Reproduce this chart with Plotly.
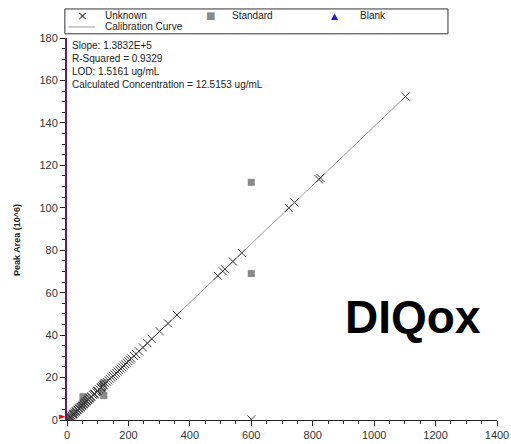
import plotly.graph_objects as go

# Calibration summary
slope = 1.3832e5          # peak area per ug/mL
r_squared = 0.9329
lod = 1.5161              # ug/mL
calc_conc = 12.5153       # ug/mL

# Unknown samples: concentration (ug/mL) and peak area (10^6)
unknown_conc = [2, 4, 6, 8, 10, 12, 15, 18, 20, 22, 25, 28, 30, 33, 35, 38, 40, 43, 45, 48,
                50, 53, 55, 58, 60, 63, 65, 68, 70, 73, 75, 78, 80, 85, 88, 90, 95, 98, 100,
                105, 110, 112, 115, 118, 120, 125, 130, 135, 140, 145, 150, 155, 160, 165,
                170, 175, 180, 185, 190, 195, 200, 205, 210, 218, 225, 234, 247, 262, 276,
                302, 329, 358, 491, 507, 514, 540, 569, 600, 722, 741, 820, 825, 1102]
unknown_area = [0.3, 0.6, 0.8, 1.1, 1.4, 1.7, 2.1, 2.5, 2.8, 3.0, 3.5, 3.9, 4.1, 4.6, 4.8, 5.3,
                5.5, 5.9, 6.2, 6.6, 6.9, 7.3, 7.6, 8.0, 8.3, 8.7, 9.0, 9.4, 9.7, 10.1, 10.4,
                10.8, 11.1, 11.8, 12.2, 12.4, 13.1, 13.6, 13.8, 14.5, 15.2, 15.5, 15.9, 16.3,
                16.6, 17.3, 18.0, 18.7, 19.4, 20.1, 20.7, 21.4, 22.1, 22.8, 23.5, 24.2, 24.9,
                25.6, 26.3, 27.0, 27.7, 28.4, 29.0, 30.2, 31.1, 32.4, 34.2, 36.2, 38.2, 41.8,
                45.5, 49.5, 67.9, 70.1, 71.1, 74.7, 78.7, 0.3, 99.9, 102.5, 113.4, 114.1, 152.4]

# Standards
standard_conc = [10, 25, 48, 52, 55, 115, 118, 120, 600, 600]
standard_area = [1.5, 3.4, 7.0, 11.0, 9.0, 13.0, 17.5, 11.5, 112.0, 69.0]

# Blank
blank_conc = [0]
blank_area = [0]

# Calibration curve end points (ug/mL)
curve_conc = [0, 1105]
curve_area = [slope * c / 1e6 for c in curve_conc]

# Axis ticks
x_ticks = [0, 200, 400, 600, 800, 1000, 1200, 1400]
y_ticks = [0, 20, 40, 60, 80, 100, 120, 140, 160, 180]

FONT = "Liberation Sans, Arial, sans-serif"
UNKNOWN_COLOR = "#3a3a3a"
STANDARD_COLOR = "#8a8a8a"
BLANK_COLOR = "#1f1fd0"
CURVE_COLOR = "#9a9a9a"

fig = go.Figure()

fig.add_trace(go.Scatter(
    x=curve_conc, y=curve_area, mode="lines", name="Calibration Curve",
    line=dict(color=CURVE_COLOR, width=1)))

fig.add_trace(go.Scatter(
    x=blank_conc, y=blank_area, mode="markers", name="Blank",
    marker=dict(symbol="triangle-up", size=7, color=BLANK_COLOR)))

fig.add_trace(go.Scatter(
    x=standard_conc, y=standard_area, mode="markers", name="Standard",
    marker=dict(symbol="square", size=7, color=STANDARD_COLOR)))

fig.add_trace(go.Scatter(
    x=unknown_conc, y=unknown_area, mode="markers", name="Unknown",
    marker=dict(symbol="x-thin-open", size=8, color=UNKNOWN_COLOR,
                line=dict(width=1, color=UNKNOWN_COLOR))))

fig.update_layout(
    width=511, height=444,
    margin=dict(l=67, r=14, t=38, b=24, autoexpand=False),
    paper_bgcolor="white", plot_bgcolor="white",
    font=dict(family=FONT, size=11, color="#333333"),
    showlegend=False,
    xaxis=dict(
        range=[0, 1400], tickvals=x_ticks, showgrid=False, zeroline=False,
        showline=True, linecolor="#222222", linewidth=1,
        ticks="outside", ticklen=5, tickcolor="#222222",
        minor=dict(dtick=50, ticks="outside", ticklen=3, tickcolor="#222222"),
        tickfont=dict(family=FONT, size=11, color="#333333"),
        automargin=False,
    ),
    yaxis=dict(
        range=[0, 180], tickvals=y_ticks, showgrid=False, zeroline=False,
        showline=True, linecolor="#5e1f66", linewidth=2,
        ticks="outside", ticklen=5, tickcolor="#222222",
        minor=dict(dtick=5, ticks="outside", ticklen=3, tickcolor="#222222"),
        tickfont=dict(family=FONT, size=11, color="#333333"),
        automargin=False,
    ),
)

# Pointer at the calculated concentration's response on the y axis
fig.add_annotation(
    text="►", x=0, y=slope * calc_conc / 1e6, xref="x", yref="y",
    xanchor="right", yanchor="middle", showarrow=False, xshift=1,
    font=dict(family="DejaVu Sans", size=9, color="#ff0000"))

# Compact boxed legend above the plot
fig.add_shape(type="rect", xref="paper", yref="paper",
              x0=-0.005, x1=0.886, y0=1.011, y1=1.076,
              line=dict(color="#333333", width=1), fillcolor="white")
fig.add_shape(type="line", xref="paper", yref="paper",
              x0=0.003, x1=0.065, y0=1.0288, y1=1.0288,
              line=dict(color=CURVE_COLOR, width=1))

legend_rows = [
    ("×", UNKNOWN_COLOR, 13, 0.035, "Unknown", 0.0837, 1.0576),
    ("■", STANDARD_COLOR, 10, 0.333, "Standard", 0.379, 1.0576),
    ("▲", BLANK_COLOR, 9, 0.623, "Blank", 0.677, 1.0576),
    ("", CURVE_COLOR, 10, 0.0, "Calibration Curve", 0.0837, 1.0288),
]
for sym, color, size, sx, label, tx, ty in legend_rows:
    if sym:
        fig.add_annotation(text=sym, xref="paper", yref="paper", x=sx, y=ty,
                           xanchor="center", yanchor="middle", showarrow=False,
                           font=dict(family="DejaVu Sans", size=size, color=color))
    fig.add_annotation(text=label, xref="paper", yref="paper", x=tx, y=ty,
                       xanchor="left", yanchor="middle", showarrow=False,
                       font=dict(family=FONT, size=10, color="#222222"))

# Fit statistics
stats = (f"Slope: {slope:.4E}".replace("E+05", "E+5") + "<br>"
         f"R-Squared = {r_squared}<br>"
         f"LOD: {lod} ug/mL<br>"
         f"Calculated Concentration = {calc_conc} ug/mL")
fig.add_annotation(
    text=stats, xref="paper", yref="paper", x=0.008, y=1.0,
    xanchor="left", yanchor="top", align="left", showarrow=False,
    font=dict(family=FONT, size=10, color="#222222"))

# Axis title
fig.add_annotation(
    text="<b>Peak Area (10^6)</b>", xref="paper", yref="paper",
    x=-0.115, y=0.47, textangle=-90, showarrow=False,
    xanchor="center", yanchor="middle",
    font=dict(family=FONT, size=9, color="#222222"))

# Compound label
fig.add_annotation(
    text="<b>DIQox</b>", xref="paper", yref="paper", x=0.967, y=0.27,
    xanchor="right", yanchor="middle", showarrow=False,
    font=dict(family=FONT, size=46, color="#000000"))

fig.write_html("out.html")
